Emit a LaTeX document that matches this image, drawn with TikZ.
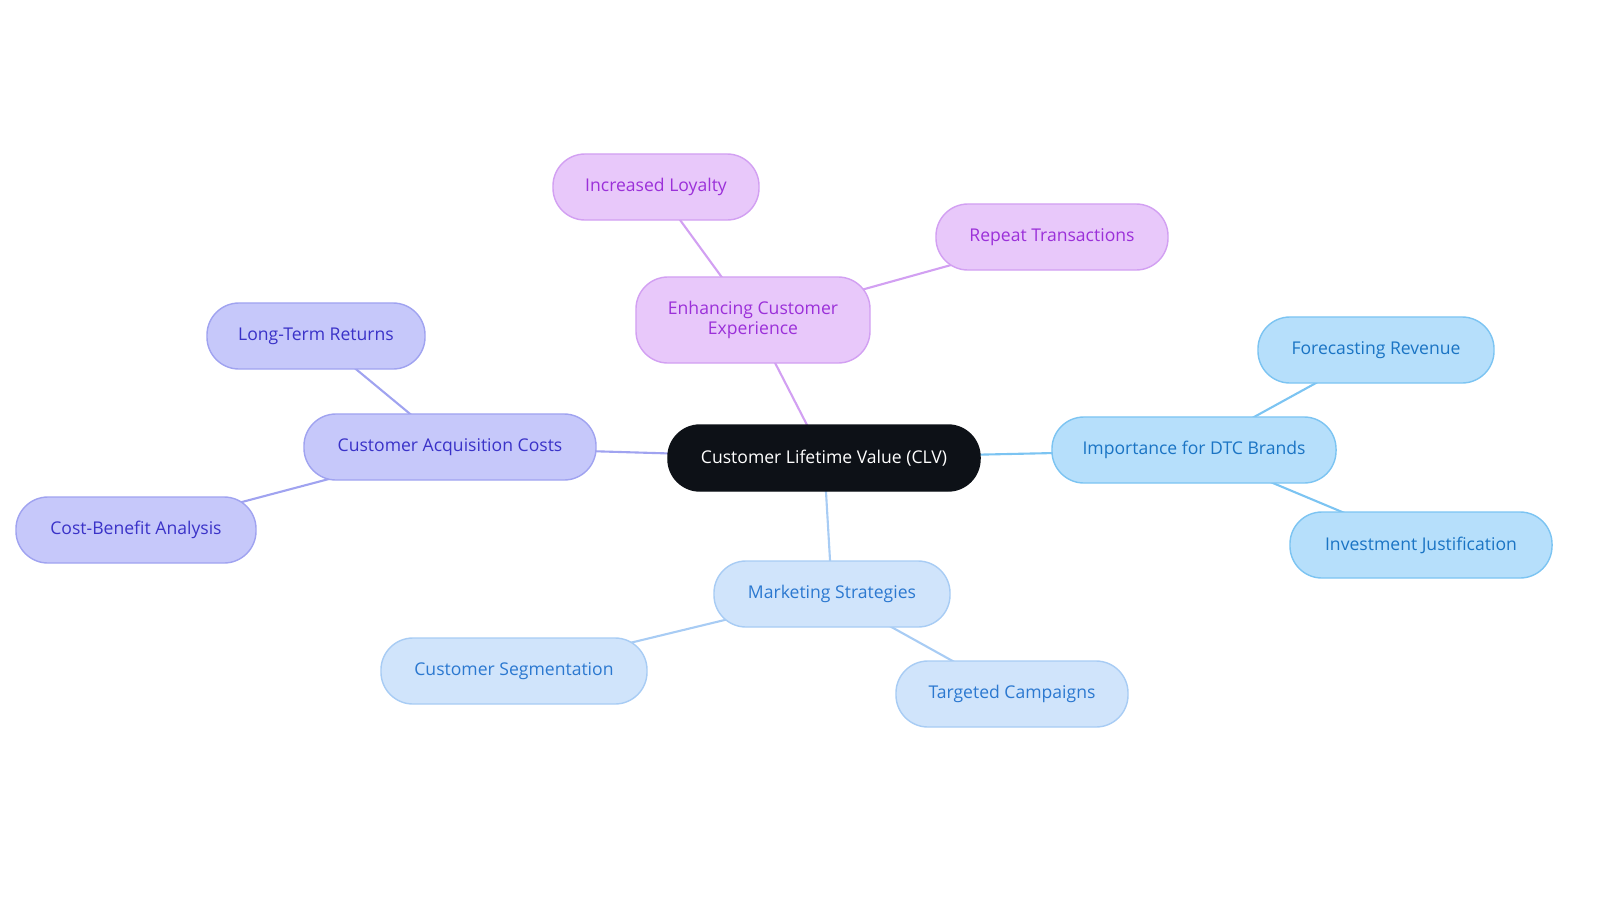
\documentclass[tikz,border=0pt]{standalone}
\usepackage{fontspec}
\setmainfont{Open Sans}
\usetikzlibrary{positioning,backgrounds}
\definecolor{clvdark}{HTML}{0D1117}
\definecolor{purfill}{HTML}{E8C8FA}\definecolor{purline}{HTML}{D2A0F2}\definecolor{purtext}{HTML}{9B30D9}
\definecolor{indfill}{HTML}{C6C8FA}\definecolor{indline}{HTML}{A0A3F0}\definecolor{indtext}{HTML}{3A32C8}
\definecolor{skyfill}{HTML}{B6DFFB}\definecolor{skyline}{HTML}{7CC4F2}\definecolor{skytext}{HTML}{1A74C4}
\definecolor{blufill}{HTML}{D0E4FB}\definecolor{bluline}{HTML}{A8CCF4}\definecolor{blutext}{HTML}{2B78D0}
\tikzset{
  topic/.style={draw,line width=1pt,rounded corners=0.8cm,minimum height=1.65cm,
    align=center,font=\fontsize{12.5}{14.5}\selectfont,inner sep=2pt},
  pur/.style={topic,fill=purfill,draw=purline,text=purtext},
  ind/.style={topic,fill=indfill,draw=indline,text=indtext},
  sky/.style={topic,fill=skyfill,draw=skyline,text=skytext},
  blu/.style={topic,fill=blufill,draw=bluline,text=blutext},
  link/.style={line width=1.5pt}
}
\begin{document}
\begin{tikzpicture}[x=0.025cm,y=-0.025cm]
  \useasboundingbox (0,0) rectangle (1600,903);

  % centre
  \node[topic,fill=clvdark,draw=clvdark,text=white,minimum width=7.8cm] (clv) at (824,458) {Customer Lifetime Value (CLV)};

  % experience
  \node[pur,minimum width=5.85cm,minimum height=2.15cm] (exp) at (753,320) {Enhancing Customer\\Experience};
  \node[pur,minimum width=5.15cm] (loy) at (656,187) {Increased Loyalty};
  \node[pur,minimum width=5.8cm] (rep) at (1052,237) {Repeat Transactions};

  % acquisition
  \node[ind,minimum width=7.3cm] (cac) at (450,447) {Customer Acquisition Costs};
  \node[ind,minimum width=5.45cm] (ltr) at (316,336) {Long-Term Returns};
  \node[ind,minimum width=6cm] (cba) at (136,530) {Cost-Benefit Analysis};

  % dtc
  \node[sky,minimum width=7.1cm] (dtc) at (1194,450) {Importance for DTC Brands};
  \node[sky,minimum width=5.9cm] (rev) at (1376,350) {Forecasting Revenue};
  \node[sky,minimum width=6.55cm] (inv) at (1421,545) {Investment Justification};

  % marketing
  \node[blu,minimum width=5.9cm] (mkt) at (832,594) {Marketing Strategies};
  \node[blu,minimum width=6.65cm] (seg) at (514,671) {Customer Segmentation};
  \node[blu,minimum width=5.8cm] (cmp) at (1012,694) {Targeted Campaigns};

  \begin{scope}[on background layer]
    \draw[link,purline] (clv.center) -- (exp.center) (exp.center) -- (loy.center) (exp.center) -- (rep.center);
    \draw[link,indline] (clv.center) -- (cac.center) (cac.center) -- (ltr.center) (cac.center) -- (cba.center);
    \draw[link,skyline] (clv.center) -- (dtc.center) (dtc.center) -- (rev.center) (dtc.center) -- (inv.center);
    \draw[link,bluline] (clv.center) -- (mkt.center) (mkt.center) -- (seg.center) (mkt.center) -- (cmp.center);
  \end{scope}
\end{tikzpicture}
\end{document}
